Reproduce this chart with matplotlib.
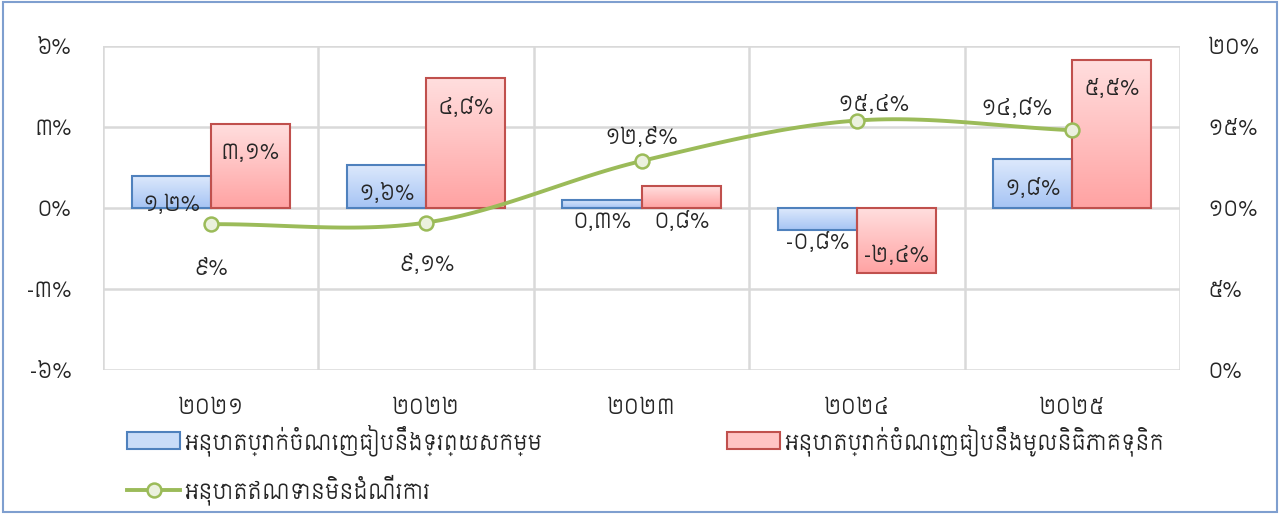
import numpy as np
import matplotlib
matplotlib.use("Agg")
import matplotlib.pyplot as plt
from matplotlib import font_manager
from matplotlib.colors import LinearSegmentedColormap
from matplotlib.patches import Rectangle
from matplotlib.lines import Line2D

# ---------------- data ----------------
years = ["២០២១", "២០២២", "២០២៣", "២០២៤", "២០២៥"]
roa = [1.2, 1.6, 0.3, -0.8, 1.8]
roe = [3.1, 4.8, 0.8, -2.4, 5.5]
npl = [9.0, 9.1, 12.9, 15.4, 14.8]
roa_labels = ["១,២%", "១,៦%", "០,៣%", "-០,៨%", "១,៨%"]
roe_labels = ["៣,១%", "៤,៨%", "០,៨%", "-២,៤%", "៥,៥%"]
npl_labels = ["៩%", "៩,១%", "១២,៩%", "១៥,៤%", "១៤,៨%"]
left_ticks = [-6, -3, 0, 3, 6]
left_ticklabels = ["-៦%", "-៣%", "០%", "៣%", "៦%"]
right_ticks = [0, 5, 10, 15, 20]
right_ticklabels = ["០%", "៥%", "១០%", "១៥%", "២០%"]
series_names = ["អនុបាតប្រាក់ចំណេញធៀបនឹងទ្រព្យសកម្ម",
                "អនុបាតប្រាក់ចំណេញធៀបនឹងមូលនិធិភាគទុនិក",
                "អនុបាតឥណទានមិនដំណើរការ"]

# ---------------- fonts ----------------
available = {f.name for f in font_manager.fontManager.ttflist}
kh = None
for cand in ["Siemreap", "Khmer OS Siemreap", "Noto Sans Khmer", "Kantumruy Pro",
             "Kantumruy", "Hanuman", "Battambang"]:
    if cand in available:
        kh = cand
        break
plt.rcParams["font.family"] = ([kh] if kh else []) + ["DejaVu Sans"]

FS = 15
TXT = "#262626"
GRID = "#d9d9d9"

fig = plt.figure(figsize=(12.8, 5.14), dpi=100)
ax = fig.add_axes([103/1280, 1-370/514, (1180-103)/1280, (370-46)/514])
ax2 = ax.twinx()

x = np.arange(len(years))
bw = 0.367

blue_cmap = LinearSegmentedColormap.from_list("b", ["#dde9fc", "#a6c4f4"])
red_cmap = LinearSegmentedColormap.from_list("r", ["#ffdede", "#ffa3a3"])
grad = np.linspace(0, 1, 64).reshape(-1, 1)

def draw_bar(xc, v, cmap, edge):
    x0, x1 = xc - bw/2, xc + bw/2
    y0, y1 = min(0, v), max(0, v)
    ax.imshow(grad, extent=[x0, x1, y0, y1], origin="upper", aspect="auto",
              cmap=cmap, zorder=2, interpolation="bilinear")
    ax.add_patch(Rectangle((x0, y0), bw, y1 - y0, fill=False, edgecolor=edge,
                           linewidth=1.5, zorder=3))

for i in range(len(years)):
    draw_bar(x[i] - bw/2, roa[i], blue_cmap, "#4f81bd")
    draw_bar(x[i] + bw/2, roe[i], red_cmap, "#c0504d")

ax.set_xlim(-0.5, len(years) - 0.5)
ax.set_ylim(-6, 6)
ax.set_yticks(left_ticks)
ax.set_yticklabels(left_ticklabels)
ax.set_xticks(x)
ax.set_xticklabels(years)
ax.tick_params(axis="y", length=0, pad=23, labelsize=FS, labelcolor=TXT)
ax.tick_params(axis="x", length=0, pad=20, labelsize=FS, labelcolor=TXT)
for s in ax.spines.values():
    s.set_visible(False)
for s in ax2.spines.values():
    s.set_visible(False)
for t in left_ticks:
    ax.axhline(t, color=GRID, lw=1.8, zorder=1)
for b in np.arange(-0.5, len(years), 1.0):
    ax.axvline(b, color=GRID, lw=1.8, zorder=1)

# bar labels
def bar_label(xc, v, s):
    h_px = abs(ax.transData.transform((0, v))[1] - ax.transData.transform((0, 0))[1])
    kw = dict(textcoords="offset points", ha="center", va="center",
              fontsize=FS, color=TXT, zorder=5)
    if v >= 0:
        if h_px > 28:
            ax.annotate(s, (xc, v), xytext=(0, -21), **kw)
        else:
            ax.annotate(s, (xc, 0), xytext=(0, -10), **kw)
    else:
        if h_px > 28:
            ax.annotate(s, (xc, v), xytext=(0, 12), **kw)
        else:
            ax.annotate(s, (xc, v), xytext=(0, -9), **kw)

fig.canvas.draw()
for i in range(len(years)):
    bar_label(x[i] - bw/2, roa[i], roa_labels[i])
    bar_label(x[i] + bw/2, roe[i], roe_labels[i])

# smooth line (Catmull-Rom through the data points)
def catmull(xs, ys, n=30):
    P = np.column_stack([xs, ys]).astype(float)
    P = np.vstack([P[0] - (P[1] - P[0]), P, P[-1] + (P[-1] - P[-2])])
    out = []
    for k in range(1, len(P) - 2):
        p0, p1, p2, p3 = P[k-1], P[k], P[k+1], P[k+2]
        for t in np.linspace(0, 1, n, endpoint=False):
            t2, t3 = t*t, t*t*t
            out.append(0.5*((2*p1) + (-p0 + p2)*t + (2*p0 - 5*p1 + 4*p2 - p3)*t2 +
                            (-p0 + 3*p1 - 3*p2 + p3)*t3))
    out.append(P[-2])
    out = np.array(out)
    return out[:, 0], out[:, 1]

sx, sy = catmull(x, npl)
ax2.plot(sx, sy, color="#9bbb59", lw=2.8, zorder=4, solid_capstyle="round")
ax2.plot(x, npl, linestyle="none", marker="o", markersize=10,
         markerfacecolor="#ebf1de", markeredgecolor="#9bbb59", markeredgewidth=1.8, zorder=5)
ax2.set_ylim(0, 20)
ax2.set_yticks(right_ticks)
ax2.set_yticklabels(right_ticklabels)
ax2.tick_params(axis="y", length=0, pad=20, labelsize=FS, labelcolor=TXT)
ax2.set_xlim(-0.5, len(years) - 0.5)

npl_offsets = [(0, -32), (0, -30), (0, 17), (12, 11), (-40, 16)]
for i in range(len(years)):
    ax2.annotate(npl_labels[i], (x[i], npl[i]), xytext=npl_offsets[i],
                 textcoords="offset points", ha="center", va="center",
                 fontsize=FS, color=TXT, zorder=6)

# legend (manual, in figure pixels)
def fx(px):
    return px / 1280
def fy(py):
    return 1 - py / 514

fig.add_artist(Rectangle((fx(127), fy(449)), fx(180) - fx(127), fy(432) - fy(449),
                         transform=fig.transFigure, facecolor="#c9dcf8", edgecolor="#4f81bd", lw=1.5))
fig.text(fx(184), fy(440), series_names[0], fontsize=FS, color=TXT, va="center", ha="left")
fig.add_artist(Rectangle((fx(727), fy(449)), fx(780) - fx(727), fy(432) - fy(449),
                         transform=fig.transFigure, facecolor="#ffc4c4", edgecolor="#c0504d", lw=1.5))
fig.text(fx(784), fy(440), series_names[1], fontsize=FS, color=TXT, va="center", ha="left")
fig.add_artist(Line2D([fx(127), fx(180)], [fy(490), fy(490)], transform=fig.transFigure,
                      color="#9bbb59", lw=2.8))
fig.add_artist(Line2D([fx(153.5)], [fy(490)], transform=fig.transFigure, marker="o", markersize=10,
                      markerfacecolor="#ebf1de", markeredgecolor="#9bbb59", markeredgewidth=1.8))
fig.text(fx(184), fy(490), series_names[2], fontsize=FS, color=TXT, va="center", ha="left")

# chart border
fig.add_artist(Rectangle((fx(3), fy(512)), fx(1277) - fx(3), fy(2) - fy(512),
                         transform=fig.transFigure, fill=False, edgecolor="#7f9fcf", lw=1.5))

fig.savefig("out.png", dpi=100)
